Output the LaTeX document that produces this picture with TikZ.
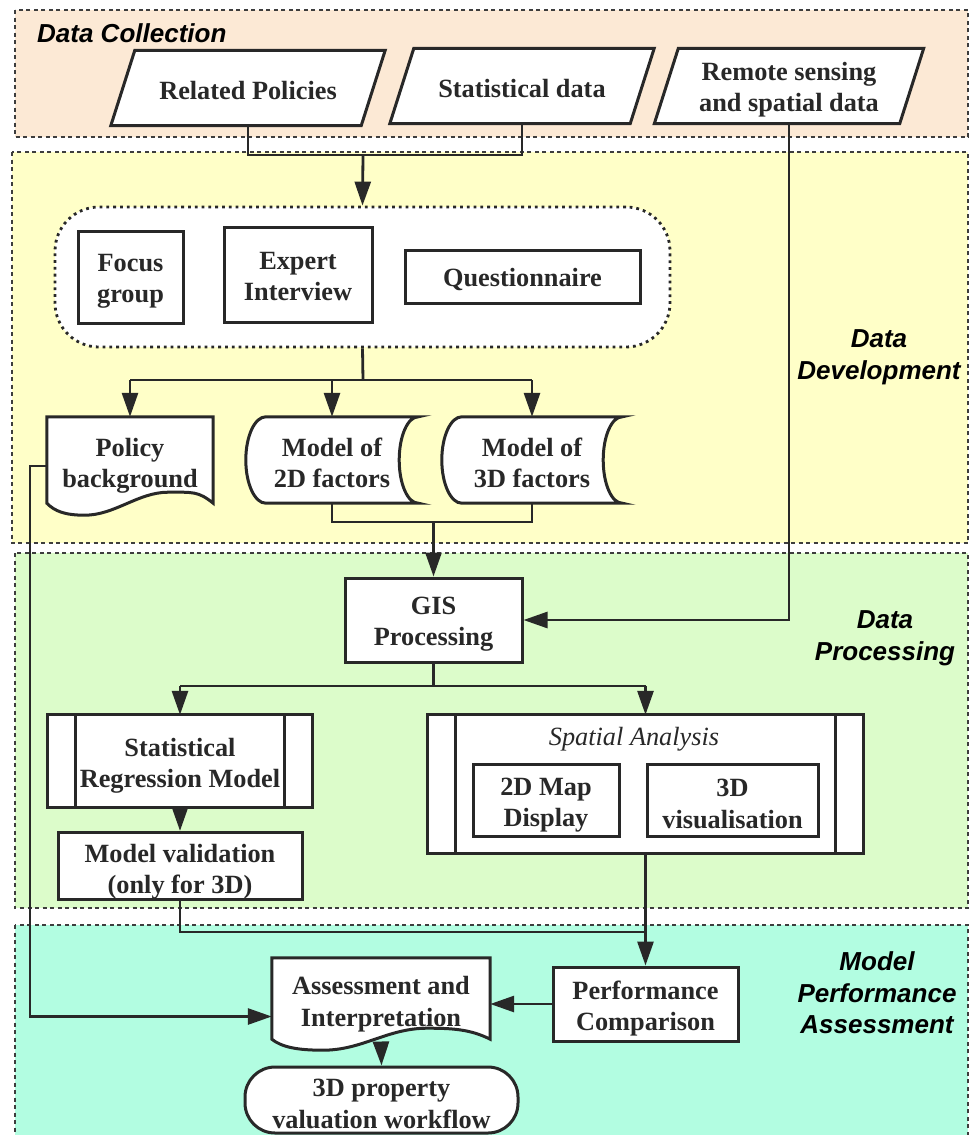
\documentclass[tikz,border=0pt]{standalone}
\usepackage{fontspec}
\setmainfont{Liberation Serif}
\newfontfamily\lsans{Liberation Sans}
\usetikzlibrary{arrows.meta,calc}
\pgfdeclarelayer{panel}
\pgfdeclarelayer{bg}
\pgfsetlayers{panel,bg,main}
\definecolor{dccol}{RGB}{252,233,213}
\definecolor{ddcol}{RGB}{255,255,200}
\definecolor{dpcol}{RGB}{220,252,202}
\definecolor{macol}{RGB}{178,253,225}
\definecolor{ink}{RGB}{40,40,40}
\newcommand\lift[1]{\rule{0pt}{#1pt}}
\newcommand\paragram[1]{\begin{pgfonlayer}{bg}\path[shp] ([xshift=12pt]#1.north west) -- ([xshift=12pt]#1.north east) -- ([xshift=-12pt]#1.south east) -- ([xshift=-12pt]#1.south west) -- cycle;\end{pgfonlayer}}
\newcommand\storeddata[1]{\begin{pgfonlayer}{bg}\path[shp] ($(#1.north west)+(20,0)$) -- (#1.north east) .. controls +(-10.5,0) and +(0,-24) .. ($(#1.east)+(-19,0)$) .. controls +(0,24) and +(-10.5,0) .. (#1.south east) -- ($(#1.south west)+(20,0)$) .. controls +(-11,0) and +(0,24) .. (#1.west) .. controls +(0,-24) and +(-11,0) .. ($(#1.north west)+(20,0)$) -- cycle;\end{pgfonlayer}}
\newcommand\predproc[1]{\begin{pgfonlayer}{bg}\path[shp] (#1.north west) rectangle (#1.south east);
\draw[shp, fill=none] ([xshift=28pt]#1.north west) -- ([xshift=28pt]#1.south west);
\draw[shp, fill=none] ([xshift=-28pt]#1.north east) -- ([xshift=-28pt]#1.south east);\end{pgfonlayer}}
\begin{document}
\begin{tikzpicture}[x=1pt,y=-1pt,
  txt/.style={font=\fontsize{26.3}{31.5}\selectfont\bfseries, align=center, inner sep=0pt, text=ink},
  box/.style={txt, draw=ink, fill=white, line width=3pt},
  ghost/.style={txt},
  shp/.style={draw=ink, fill=white, line width=3pt},
  ln/.style={draw=ink, line width=2.8pt},
  arr/.style={ln, -{Triangle[length=24pt,width=16pt]}},
  panelb/.style={draw=ink!90, line width=2.6pt, dash pattern=on 4pt off 3.5pt},
  seclab/.style={font=\lsans\fontsize{26}{31.5}\selectfont\bfseries\itshape, align=center, inner sep=0pt, text=black}
]
\useasboundingbox (0,0) rectangle (971,1135);
\clip (0,0) rectangle (971,1135);
\begin{pgfonlayer}{panel}
\fill[white] (0,0) rectangle (971,1135);
\fill[dccol] (15,10) rectangle (968,137);
\draw[panelb] (15,10) rectangle (968,137);
\fill[ddcol] (12,152) rectangle (968,543);
\draw[panelb] (12,152) rectangle (968,543);
\fill[dpcol] (15,553) rectangle (968,908);
\draw[panelb] (15,553) rectangle (968,908);
\fill[macol] (15,925) rectangle (968,1150);
\draw[panelb] (15,925) rectangle (968,1150);
\end{pgfonlayer}

% section labels
\node[seclab, anchor=west] (lab1) at (37,33) {Data Collection};
\node[seclab] (lab2) at (879,357) {Data\\Development};
\node[seclab] (lab3) at (885,638) {Data\\Processing};
\node[seclab] (lab4) at (877,993) {Model\\Performance\\Assessment};

% data collection
\node[ghost, minimum width=250pt, minimum height=75pt] (rp) at (248,88) {\lift{24}Related Policies};
\node[ghost, minimum width=240pt, minimum height=75pt] (sd) at (522,86) {\lift{24}Statistical data};
\node[ghost, minimum width=245pt, minimum height=75pt] (rs) at (789,86) {\lift{26}Remote sensing\\and spatial data};
\paragram{rp}\paragram{sd}\paragram{rs}

% data development
\node[draw=ink, fill=white, line width=2.8pt, dash pattern=on 2.8pt off 4pt, rounded corners=44pt, minimum width=615pt, minimum height=140pt, inner sep=0pt] (grp) at (362.5,277) {};
\node[box, minimum width=105pt, minimum height=92pt] (fg) at (130.5,277) {\lift{26}Focus\\group};
\node[box, minimum width=148pt, minimum height=95pt] (ei) at (298,274.5) {\lift{21}Expert\\Interview};
\node[box, minimum width=235pt, minimum height=53pt] (qn) at (522.5,276.5) {\lift{24}Questionnaire};

\node[ghost, minimum width=166pt, minimum height=86pt] (pb) at (130,460) {\lift{30}Policy\\background};
\node[ghost, minimum width=172pt, minimum height=86pt] (m2) at (332,460) {\lift{24}Model of\\2D factors};
\node[ghost, minimum width=180pt, minimum height=86pt] (m3) at (532,460) {\lift{24}Model of\\3D factors};
\begin{pgfonlayer}{bg}
\path[shp] (pb.north west) -- (pb.north east) -- (pb.south east) .. controls +(-15,-12) and +(25,0) .. ($(pb.south east)+(-45,-11)$) .. controls +(-30,0) and +(30,0) .. ($(pb.south west)+(38,12)$) .. controls +(-20,0) and +(8,8) .. (pb.south west) -- cycle;
\end{pgfonlayer}
\storeddata{m2}\storeddata{m3}

% data processing
\node[box, minimum width=177pt, minimum height=84pt] (gis) at (433.5,620) {\lift{26}GIS\\Processing};
\node[ghost, minimum width=265pt, minimum height=92pt] (srm) at (180,761) {\lift{28}Statistical\\Regression Model};
\predproc{srm}
\node[box, minimum width=244pt, minimum height=62pt] (mv) at (180,866) {\lift{30}Model validation\\(only for 3D)};
\node[ghost, minimum width=435pt, minimum height=138pt] (sa) at (645.5,784) {};
\predproc{sa}
\node[txt, font=\fontsize{26.3}{31.5}\selectfont\itshape] (sat) at (634,736) {\lift{24}Spatial Analysis};
\node[box, minimum width=146pt, minimum height=72pt] (m2d) at (546,800) {\lift{28}2D Map\\Display};
\node[box, minimum width=171pt, minimum height=72pt] (v3d) at (732.5,800) {\lift{25}3D\\visualisation};

% model performance assessment
\node[box, minimum width=185pt, minimum height=74pt] (pc) at (645.5,1004) {\lift{28}Performance\\Comparison};
\node[ghost, minimum width=218pt, minimum height=81pt] (as) at (381,998.5) {\lift{30}Assessment and\\Interpretation};
\begin{pgfonlayer}{bg}
\path[shp] (as.north west) -- (as.north east) -- (as.south east) .. controls +(-20,-10) and +(25,0) .. ($(as.south east)+(-63,-11)$) .. controls +(-40,0) and +(40,0) .. ($(as.south west)+(51,11)$) .. controls +(-25,0) and +(10,8) .. (as.south west) -- cycle;
\end{pgfonlayer}
\node[box, rounded corners=30pt, minimum width=273pt, minimum height=66pt] (tm) at (381.5,1100) {\lift{25}3D property\\valuation workflow};

% connectors
\coordinate (j1) at (363,155);
\draw[ln] (rp.south) -- (rp.south |- j1) -- (sd.south |- j1) -- (sd.south);
\draw[arr] (j1) -- (grp.north);
\coordinate (j2) at (363,380);
\draw[ln] (grp.south) -- (j2);
\draw[ln] (pb.north |- j2) -- (m3.north |- j2);
\draw[arr] (pb.north |- j2) -- (pb.north);
\draw[arr] (m2.north |- j2) -- (m2.north);
\draw[arr] (m3.north |- j2) -- (m3.north);
\coordinate (j3) at (433.5,522);
\draw[ln] (m2.south) -- (m2.south |- j3) -- (m3.south |- j3) -- (m3.south);
\draw[arr] (j3) -- (gis.north);
\draw[arr] (rs.south) |- (gis.east);
\coordinate (j4) at (433.5,686);
\draw[ln] (gis.south) -- (j4);
\draw[ln] (srm.north |- j4) -- (sa.north |- j4);
\draw[arr] (srm.north |- j4) -- (srm.north);
\draw[arr] (sa.north |- j4) -- (sa.north);
\draw[arr] (srm.south) -- (mv.north);
\coordinate (j5) at (645.5,932);
\draw[ln] (mv.south) |- (j5);
\draw[arr] (sa.south) -- (pc.north);
\draw[arr] (pc.west) -- (pc.west -| as.east);
\coordinate (lx) at (30,0);
\coordinate (pbout) at ([yshift=-6pt]pb.west);
\coordinate (asin) at ([yshift=-18pt]as.west);
\draw[arr] (pbout) -- (pbout -| lx) -- (asin -| lx) -- (asin);
\draw[arr] ([yshift=-4pt]as.south) -- (tm.north);
\end{tikzpicture}
\end{document}
